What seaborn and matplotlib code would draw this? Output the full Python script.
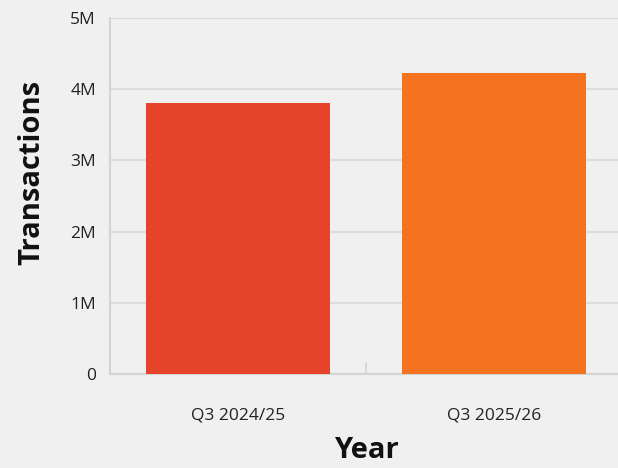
import matplotlib
matplotlib.use("Agg")
import matplotlib.pyplot as plt
import seaborn as sns
import pandas as pd
from matplotlib.ticker import FuncFormatter, FixedLocator

years = ["Q3 2024/25", "Q3 2025/26"]
transactions = [3.80e6, 4.23e6]
colors = ["#e5432a", "#f37321"]
yticks = [0, 1e6, 2e6, 3e6, 4e6, 5e6]

sns.set_theme(style="white")
plt.rcParams['font.family'] = ['Open Sans', 'DejaVu Sans']

df = pd.DataFrame({"Year": years, "Transactions": transactions})

fig = plt.figure(figsize=(6.18, 4.68), dpi=100, facecolor="#f0f0f0")
ax = fig.add_axes([110/618, 94/468, 512/618, 356/468])
ax.set_facecolor("#f0f0f0")

sns.barplot(data=df, x="Year", y="Transactions", hue="Year", palette=colors,
            width=0.72, saturation=1, legend=False, ax=ax, zorder=3, linewidth=0)

ax.set_xlim(-0.5, 1.5)
ax.set_ylim(0, 5e6)
ax.yaxis.set_major_locator(FixedLocator(yticks))
ax.yaxis.set_major_formatter(FuncFormatter(lambda v, p: "0" if v == 0 else f"{int(v/1e6)}M"))
ax.grid(axis="y", color="#dcdcdc", linewidth=1.6, zorder=0)
ax.grid(axis="x", visible=False)

for s in ["top", "right"]:
    ax.spines[s].set_visible(False)
for s in ["left", "bottom"]:
    ax.spines[s].set_color("#d4d4d4")
    ax.spines[s].set_linewidth(1.5)

ax.tick_params(axis="y", length=0, pad=10, labelsize=12.5, labelcolor="#222222")
ax.tick_params(axis="x", length=0, pad=24, labelsize=12.5, labelcolor="#222222")
ax.xaxis.set_minor_locator(FixedLocator([0.5]))
ax.tick_params(axis="x", which="minor", bottom=True, direction="in", length=9, width=1.2, color="#d4d4d4")

ax.set_ylabel("Transactions", fontsize=21, fontweight="bold", color="#111111")
ax.yaxis.set_label_coords(-0.125, 0.567)
ax.set_xlabel("Year", fontsize=21, fontweight="bold", color="#111111", labelpad=9)

fig.savefig("out.png", dpi=100, facecolor=fig.get_facecolor())
